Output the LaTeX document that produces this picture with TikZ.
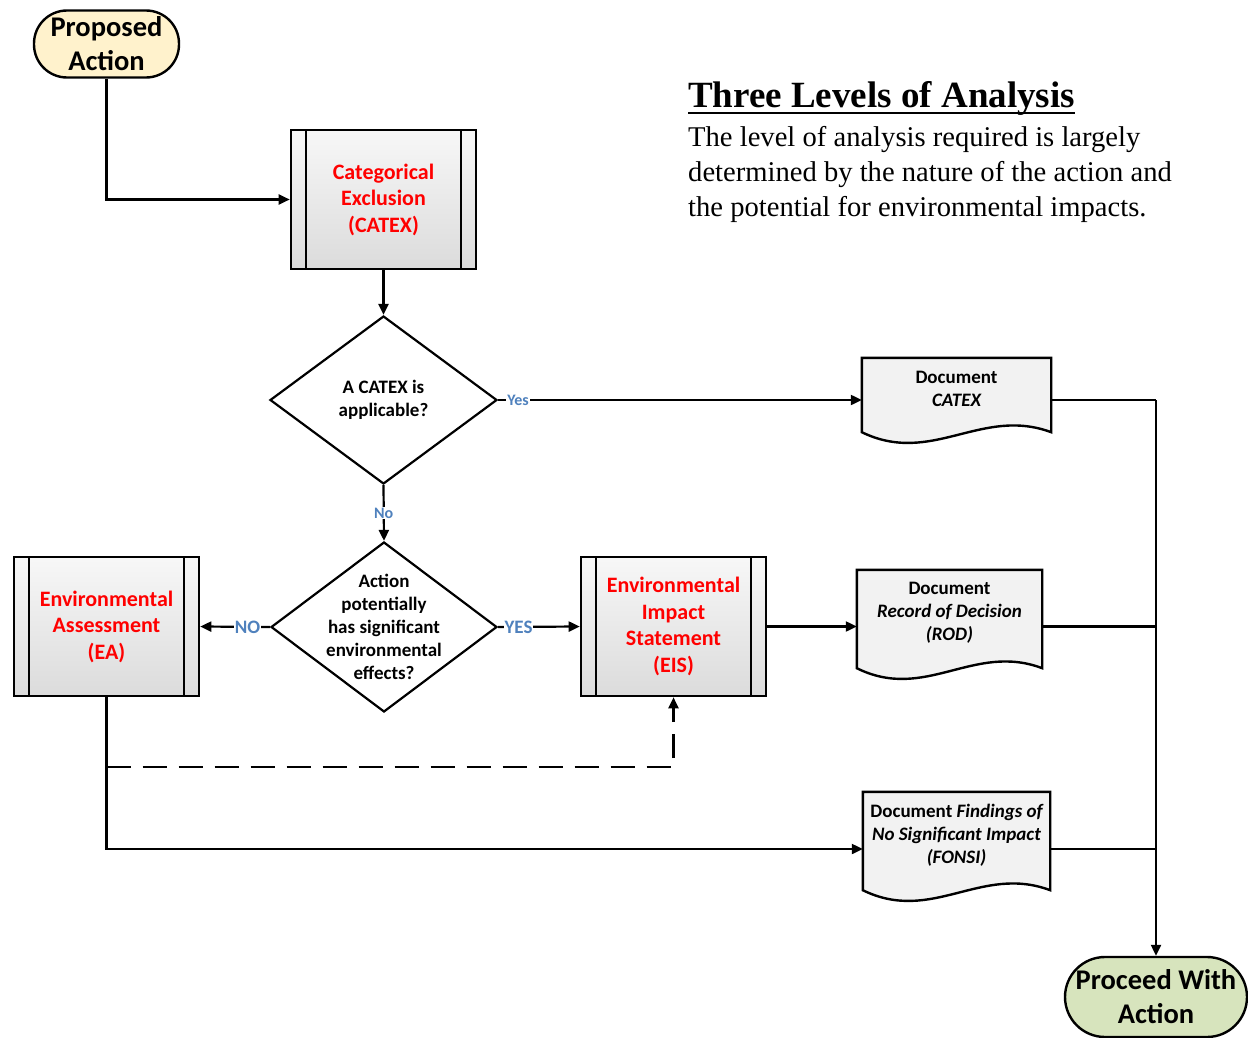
\documentclass[tikz,border=0pt]{standalone}
\usepackage{fontspec}
\setmainfont{Carlito}
\newfontfamily\timesfont{Liberation Serif}
\usetikzlibrary{arrows.meta,shapes.geometric,calc,backgrounds}

\definecolor{termyellow}{HTML}{FFF2CC}
\definecolor{termgreen}{HTML}{D7E4BD}
\definecolor{docgray}{HTML}{F2F2F2}
\definecolor{labelblue}{HTML}{4F81BD}

\tikzset{
  conn/.style={line width=2.2pt, -{Triangle[length=11pt,width=10pt]}},
  plainline/.style={line width=2.2pt},
  terminal/.style={rectangle, draw, line width=2.4pt, inner sep=0pt, align=center,
    font=\fontsize{28.5}{34}\selectfont\bfseries},
  process/.style={rectangle, draw, line width=2.6pt, minimum width=185pt, minimum height=139pt,
    inner sep=0pt, top color=gray!6, bottom color=gray!28, align=center, text=red,
    font=\fontsize{22}{26.5}\selectfont\bfseries,
    path picture={
      \draw[line width=2.2pt] ([xshift=15pt]path picture bounding box.north west) -- ([xshift=15pt]path picture bounding box.south west);
      \draw[line width=2.2pt] ([xshift=-15pt]path picture bounding box.north east) -- ([xshift=-15pt]path picture bounding box.south east);
    }},
  decision/.style={diamond, draw, line width=2.2pt, inner sep=0pt},
  dtext/.style={align=center, inner sep=0pt, font=\fontsize{19}{23}\selectfont\bfseries},
  docbox/.style={rectangle, inner sep=0pt},
  doctext/.style={align=center, inner sep=0pt, font=\fontsize{19}{23}\selectfont\bfseries},
  smalllabel/.style={fill=white, text=labelblue, inner sep=1pt, font=\fontsize{16}{18}\selectfont\bfseries},
  biglabel/.style={fill=white, text=labelblue, inner sep=1pt, font=\fontsize{19}{21}\selectfont\bfseries},
}

% document symbol: flat top, wavy bottom below the node's south edge
\newcommand\docshape[1]{%
  \draw[line width=2.4pt, fill=docgray] (#1.north west) -- (#1.north east) -- (#1.south east)
    .. controls ($(#1.south east)!0.37!(#1.south west)+(0,-26)$) and ($(#1.south west)!0.37!(#1.south east)+(0,34)$) .. (#1.south west) -- cycle;}

\begin{document}
\begin{tikzpicture}[x=1pt,y=-1pt]
\useasboundingbox (0,0) rectangle (1248,1038);

% terminals
\node[terminal, rounded corners=33pt, fill=termyellow, minimum width=145pt, minimum height=67pt]
  (prop) at (106.5,44) {Proposed\\Action};
\node[terminal, rounded corners=40pt, fill=termgreen, minimum width=182pt, minimum height=80pt]
  (pwa) at (1156,997) {Proceed With\\Action};

% processes
\node[process] (catex) at (383.5,199.5) {Categorical\\Exclusion\\(CATEX)};
\node[process] (ea) at (106.5,626.5) {Environmental\\Assessment\\(EA)};
\node[process] (eis) at (673.5,626.5) {Environmental\\Impact\\Statement\\(EIS)};

% decisions
\node[decision, minimum width=227pt, minimum height=168pt,
  label={[dtext]center:{A CATEX is\\applicable?}}] (d1) at (383.5,400) {};
\node[decision, minimum width=226pt, minimum height=170pt,
  label={[dtext]center:{Action\\potentially\\has significant\\environmental\\effects?}}] (d2) at (384,627) {};

% documents
\node[docbox, minimum width=189pt, minimum height=74pt,
  label={[doctext,yshift=6pt]center:{Document\\{\itshape CATEX}}}] (doc1) at (956.5,395) {};
\node[docbox, minimum width=185pt, minimum height=98pt,
  label={[doctext,yshift=6pt]center:{Document\\{\itshape Record of Decision}\\{\itshape (ROD)}}}] (doc2) at (949.5,619) {};
\node[docbox, minimum width=187pt, minimum height=98pt,
  label={[doctext,yshift=6pt]center:{Document {\itshape Findings of}\\{\itshape No Significant Impact}\\{\itshape (FONSI)}}}] (doc3) at (956.5,841) {};

\begin{scope}[on background layer]
  \docshape{doc1}
  \docshape{doc2}
  \docshape{doc3}
\end{scope}

% heading and note
\node[anchor=base west, inner sep=0pt, font=\timesfont\bfseries\fontsize{37}{40}\selectfont]
  (title) at (688,108) {Three Levels of Analysis};
\draw[line width=2.6pt] ([yshift=-5pt]title.base west) -- ([yshift=-5pt]title.base east);
\node[anchor=base west, inner sep=0pt, font=\timesfont\fontsize{28.6}{30}\selectfont]
  (note1) at (688,147) {The level of analysis required is largely};
\node[anchor=base west, inner sep=0pt, font=\timesfont\fontsize{28.6}{30}\selectfont]
  (note2) at (688,182) {determined by the nature of the action and};
\node[anchor=base west, inner sep=0pt, font=\timesfont\fontsize{28.6}{30}\selectfont]
  (note3) at (688,216.5) {the potential for environmental impacts.};

% routing coordinates
\coordinate (bus) at (1156,0);
\coordinate (fonsirow) at (0,849);
\coordinate (dashrow) at (0,767);

% connectors
\draw[conn] (prop.south) |- (catex.west);
\draw[conn] (catex.south) -- (d1.north);
\draw[conn] (d1.east) -- node[smalllabel, pos=0.055] {Yes} (d1.east -| doc1.west);
\draw[conn] (d1.south) -- node[smalllabel, pos=0.5] {No} (d2.north);
\draw[conn] (d2.west) -- node[biglabel, pos=0.32] {NO} (ea.east);
\draw[conn] (d2.east) -- node[biglabel, pos=0.25] {YES} (eis.west);
\draw[conn] (eis.east) -- (eis.east -| doc2.west);
\draw[conn] (ea.south) -- (ea.south |- fonsirow) -- (fonsirow -| doc3.west);
\draw[conn, dash pattern=on 24pt off 12pt] (ea.south |- dashrow) -- (dashrow -| eis.south) -- (eis.south);

% right-hand collector
\draw[plainline] (d1.east -| doc1.east) -- (d1.east -| bus);
\draw[plainline] (eis.east -| doc2.east) -- (eis.east -| bus);
\draw[plainline] (fonsirow -| doc3.east) -- (fonsirow -| bus);
\draw[conn] (d1.east -| bus) -- (pwa.north);
\end{tikzpicture}
\end{document}
